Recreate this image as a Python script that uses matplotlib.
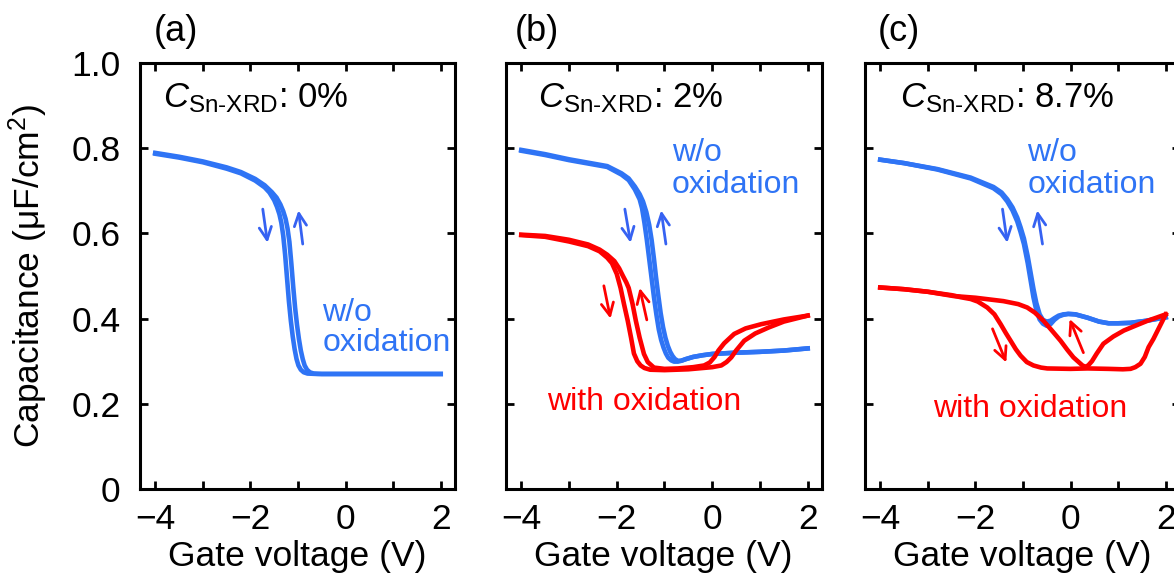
import matplotlib
matplotlib.use('Agg')
import matplotlib.pyplot as plt
from matplotlib.ticker import FixedLocator, FixedFormatter

plt.rcParams['font.family'] = ['Liberation Sans', 'DejaVu Sans']
plt.rcParams['mathtext.fontset'] = 'custom'
plt.rcParams['mathtext.rm'] = 'Liberation Sans'
plt.rcParams['mathtext.it'] = 'Liberation Sans:italic'
plt.rcParams['mathtext.bf'] = 'Liberation Sans:bold'

BLUE = '#2f74f5'
BLUE_ARROW = '#3662f2'
RED = '#fe0000'

# (a) C_Sn-XRD 0 %, w/o oxidation
a_blue_dn_v = [-4.0, -3.5, -3.0, -2.5, -2.2, -1.9, -1.7, -1.6, -1.5, -1.44, -1.39, -1.35, -1.31, -1.27,
               -1.23, -1.19, -1.15, -1.11, -1.07, -1.03, -0.99, -0.94, -0.88, -0.8, -0.6, 0.0, 1.0, 2.0]
a_blue_dn_c = [0.787, 0.778, 0.767, 0.752, 0.741, 0.724, 0.708, 0.696, 0.678, 0.662, 0.645, 0.625, 0.595, 0.55,
               0.495, 0.44, 0.395, 0.358, 0.328, 0.305, 0.29, 0.28, 0.274, 0.271, 0.27, 0.27, 0.27, 0.27]
a_blue_up_v = [-4.0, -3.5, -3.0, -2.5, -2.2, -1.9, -1.7, -1.55, -1.45, -1.37, -1.31, -1.26, -1.22, -1.18, -1.14,
               -1.10, -1.06, -1.02, -0.98, -0.94, -0.90, -0.86, -0.81, -0.75, -0.67, -0.5, 0.0, 1.0, 2.0]
a_blue_up_c = [0.789, 0.780, 0.769, 0.755, 0.744, 0.728, 0.713, 0.697, 0.684, 0.668, 0.652, 0.634, 0.612, 0.58, 0.53,
               0.475, 0.425, 0.385, 0.352, 0.325, 0.305, 0.29, 0.28, 0.274, 0.271, 0.27, 0.27, 0.27, 0.27]

# (b) C_Sn-XRD 2 %
b_blue_dn_v = [-4.0, -3.5, -3.0, -2.5, -2.2, -1.9, -1.75, -1.62, -1.52, -1.47, -1.42, -1.37, -1.32, -1.27, -1.22,
               -1.17, -1.12, -1.07, -1.02, -0.97, -0.92, -0.86, -0.8, -0.72, -0.65, -0.55, -0.4, -0.2, 0.0, 0.5,
               1.0, 1.5, 2.0]
b_blue_dn_c = [0.794, 0.784, 0.772, 0.762, 0.756, 0.738, 0.725, 0.703, 0.68, 0.659, 0.625, 0.585, 0.54, 0.495, 0.45,
               0.41, 0.375, 0.35, 0.332, 0.318, 0.308, 0.302, 0.299, 0.299, 0.301, 0.305, 0.31, 0.314, 0.317, 0.32,
               0.322, 0.325, 0.33]
b_blue_up_v = [-4.0, -3.5, -3.0, -2.5, -2.2, -1.9, -1.75, -1.62, -1.52, -1.45, -1.38, -1.32, -1.27, -1.22, -1.18,
               -1.13, -1.08, -1.03, -0.98, -0.93, -0.88, -0.83, -0.78, -0.72, -0.65, -0.55, -0.4, -0.2, 0.0, 0.5,
               1.0, 1.5, 2.0]
b_blue_up_c = [0.796, 0.786, 0.774, 0.764, 0.758, 0.741, 0.729, 0.71, 0.692, 0.675, 0.65, 0.62, 0.585, 0.54, 0.5,
               0.455, 0.413, 0.38, 0.355, 0.336, 0.322, 0.312, 0.305, 0.301, 0.301, 0.305, 0.31, 0.314, 0.317, 0.32,
               0.322, 0.325, 0.33]
b_red_fwd_v = [-4.0, -3.5, -3.0, -2.6, -2.36, -2.2, -2.1, -2.0, -1.92, -1.85, -1.77, -1.7, -1.64, -1.57, -1.5,
               -1.42, -1.3, -1.0, -0.5, -0.2, 0.0, 0.19, 0.3, 0.4, 0.5, 0.67, 0.9, 1.18, 1.5, 2.0]
b_red_fwd_c = [0.596, 0.592, 0.581, 0.57, 0.558, 0.543, 0.53, 0.505, 0.472, 0.435, 0.395, 0.355, 0.318, 0.3, 0.29,
               0.284, 0.28, 0.279, 0.281, 0.284, 0.286, 0.29, 0.298, 0.309, 0.325, 0.348, 0.365, 0.379, 0.393, 0.407]
b_red_rev_v = [-4.0, -3.5, -3.0, -2.6, -2.36, -2.2, -2.05, -1.95, -1.87, -1.8, -1.75, -1.67, -1.6, -1.52, -1.43,
               -1.35, -1.22, -1.0, -0.72, -0.4, -0.17, -0.05, 0.05, 0.13, 0.25, 0.46, 0.7, 1.03, 1.5, 2.0]
b_red_rev_c = [0.597, 0.594, 0.585, 0.574, 0.562, 0.55, 0.535, 0.518, 0.5, 0.485, 0.472, 0.435, 0.395, 0.355, 0.317,
               0.298, 0.285, 0.282, 0.283, 0.286, 0.29, 0.297, 0.31, 0.325, 0.342, 0.364, 0.377, 0.387, 0.398, 0.407]

# (c) C_Sn-XRD 8.7 %
c_blue_v = [-4.0, -3.5, -2.8, -2.1, -1.62, -1.45, -1.33, -1.22, -1.12, -1.05, -0.98, -0.9, -0.84, -0.78, -0.72,
            -0.65, -0.58, -0.5, -0.42, -0.34, -0.25, -0.15, -0.05, 0.1, 0.36, 0.6, 0.8, 1.0, 1.26, 1.6, 2.0]
c_blue_dn_c = [0.773, 0.765, 0.75, 0.729, 0.706, 0.692, 0.675, 0.654, 0.628, 0.603, 0.575, 0.53, 0.49, 0.45, 0.42,
               0.398, 0.388, 0.383, 0.387, 0.397, 0.405, 0.409, 0.411, 0.41, 0.402, 0.393, 0.389, 0.389, 0.39,
               0.395, 0.403]
c_blue_up_c = [0.773, 0.765, 0.751, 0.731, 0.709, 0.696, 0.68, 0.661, 0.637, 0.614, 0.588, 0.546, 0.508, 0.47, 0.437,
               0.41, 0.397, 0.393, 0.395, 0.401, 0.407, 0.41, 0.411, 0.41, 0.402, 0.393, 0.389, 0.389, 0.39,
               0.395, 0.403]
c_red_fwd_v = [-4.0, -3.5, -3.0, -2.5, -2.3, -2.1, -1.95, -1.75, -1.6, -1.47, -1.36, -1.26, -1.15, -1.05, -0.92,
               -0.78, -0.62, -0.49, 0.0, 0.36, 0.8, 1.1, 1.26, 1.36, 1.47, 1.56, 1.64, 1.74, 1.83, 1.92, 2.0]
c_red_fwd_c = [0.473, 0.469, 0.463, 0.455, 0.45, 0.446, 0.44, 0.426, 0.41, 0.387, 0.366, 0.348, 0.328, 0.313, 0.298,
               0.29, 0.285, 0.283, 0.282, 0.283, 0.282, 0.281, 0.282, 0.286, 0.294, 0.31, 0.333, 0.352, 0.372,
               0.392, 0.41]
c_red_rev_v = [-4.0, -3.5, -3.0, -2.46, -2.0, -1.41, -1.1, -0.91, -0.75, -0.57, -0.4, -0.21, -0.07, 0.06, 0.18,
               0.25, 0.31, 0.37, 0.45, 0.55, 0.69, 0.9, 1.12, 1.4, 1.62, 1.8, 2.0]
c_red_rev_c = [0.473, 0.469, 0.463, 0.453, 0.449, 0.441, 0.434, 0.426, 0.414, 0.395, 0.373, 0.348, 0.327, 0.309,
               0.297, 0.29, 0.287, 0.29, 0.3, 0.318, 0.341, 0.358, 0.372, 0.385, 0.395, 0.402, 0.41]

# sweep arrows: (tail V, tail C, head V, head C)
a_arrows = [(-1.74, 0.657, -1.64, 0.578, BLUE_ARROW), (-0.90, 0.575, -0.99, 0.654, BLUE_ARROW)]
b_arrows = [(-1.83, 0.657, -1.71, 0.578, BLUE_ARROW), (-0.97, 0.575, -1.07, 0.654, BLUE_ARROW),
            (-2.27, 0.477, -2.13, 0.400, RED), (-1.37, 0.397, -1.52, 0.472, RED)]
c_arrows = [(-1.43, 0.657, -1.33, 0.578, BLUE_ARROW), (-0.59, 0.575, -0.70, 0.654, BLUE_ARROW),
            (-1.64, 0.376, -1.35, 0.297, RED), (0.27, 0.320, -0.02, 0.399, RED)]

conc_labels = ['0%', '2%', '8.7%']
panel_labels = ['(a)', '(b)', '(c)']
y_ticks = [0, 0.2, 0.4, 0.6, 0.8, 1.0]
y_ticklabels = ['0', '0.2', '0.4', '0.6', '0.8', '1.0']

W, H = 1174, 575
fig = plt.figure(figsize=(W / 100, H / 100), dpi=100)


def px_axes(left, top, width, height):
    return fig.add_axes([left / W, 1 - (top + height) / H, width / W, height / H])


axes = [px_axes(140, 63, 315, 426), px_axes(506, 63, 316, 426), px_axes(865, 63, 315, 426)]
for i, ax in enumerate(axes):
    ax.set_xlim(-4.32, 2.3)
    ax.set_ylim(0, 1)
    ax.xaxis.set_major_locator(FixedLocator([-4, -2, 0, 2]))
    ax.xaxis.set_minor_locator(FixedLocator([-3, -1, 1]))
    ax.yaxis.set_major_locator(FixedLocator(y_ticks))
    ax.yaxis.set_major_formatter(FixedFormatter(y_ticklabels))
    ax.tick_params(which='both', direction='in', top=True, right=True, length=6, width=2, labelsize=25.5)
    ax.tick_params(axis='x', pad=10)
    ax.tick_params(axis='y', pad=14)
    if i > 0:
        ax.tick_params(axis='y', labelleft=False)
    for s in ax.spines.values():
        s.set_linewidth(2.2)

ax_a, ax_b, ax_c = axes
lw = 3.3
ax_a.plot(a_blue_dn_v, a_blue_dn_c, color=BLUE, lw=lw, solid_joinstyle='round')
ax_a.plot(a_blue_up_v, a_blue_up_c, color=BLUE, lw=lw, solid_joinstyle='round')

ax_b.plot(b_blue_dn_v, b_blue_dn_c, color=BLUE, lw=lw, solid_joinstyle='round')
ax_b.plot(b_blue_up_v, b_blue_up_c, color=BLUE, lw=lw, solid_joinstyle='round')
ax_b.plot(b_red_fwd_v, b_red_fwd_c, color=RED, lw=lw, solid_joinstyle='round')
ax_b.plot(b_red_rev_v, b_red_rev_c, color=RED, lw=lw, solid_joinstyle='round')

ax_c.plot(c_blue_v, c_blue_dn_c, color=BLUE, lw=lw, solid_joinstyle='round')
ax_c.plot(c_blue_v, c_blue_up_c, color=BLUE, lw=lw, solid_joinstyle='round')
ax_c.plot(c_red_fwd_v, c_red_fwd_c, color=RED, lw=lw, solid_joinstyle='round')
ax_c.plot(c_red_rev_v, c_red_rev_c, color=RED, lw=lw, solid_joinstyle='round')

for ax, arrows in zip(axes, [a_arrows, b_arrows, c_arrows]):
    for x0, y0, x1, y1, col in arrows:
        ax.annotate('', xy=(x1, y1), xytext=(x0, y0),
                    arrowprops=dict(arrowstyle='->,head_length=0.45,head_width=0.22', lw=2.0,
                                    color=col, shrinkA=0, shrinkB=0, mutation_scale=20))

# concentration labels and panel letters
for ax, conc, lab, xc, xl in zip(axes, conc_labels, panel_labels, [-3.83, -3.64, -3.58], [-4.04, -4.13, -4.06]):
    ax.text(xc, 0.895, r'$C_{\mathrm{Sn}\text{-}\mathrm{XRD}}$: ' + conc, fontsize=25, va='baseline', ha='left')
    ax.text(xl, 1.051, lab, fontsize=26, va='baseline', ha='left', clip_on=False)

# series labels
fs = 23
ax_a.text(-0.485, 0.395, 'w/o', color=BLUE, fontsize=fs, va='baseline')
ax_a.text(-0.485, 0.325, 'oxidation', color=BLUE, fontsize=fs, va='baseline')
ax_b.text(-0.84, 0.769, 'w/o', color=BLUE, fontsize=fs, va='baseline')
ax_b.text(-0.84, 0.696, 'oxidation', color=BLUE, fontsize=fs, va='baseline')
ax_c.text(-0.905, 0.769, 'w/o', color=BLUE, fontsize=fs, va='baseline')
ax_c.text(-0.905, 0.696, 'oxidation', color=BLUE, fontsize=fs, va='baseline')
ax_b.text(-3.45, 0.186, 'with oxidation', color=RED, fontsize=fs, va='baseline')
ax_c.text(-2.88, 0.168, 'with oxidation', color=RED, fontsize=fs, va='baseline')

fig.text(28 / W, 1 - 276 / H, r'Capacitance (μF/cm$^2$)', fontsize=25.5, rotation=90, ha='center', va='center')
for xc in [297.5, 663, 1022]:
    fig.text(xc / W, 2 / H, 'Gate voltage (V)', fontsize=25.5, ha='center', va='bottom')

fig.savefig('out.png', dpi=100)
